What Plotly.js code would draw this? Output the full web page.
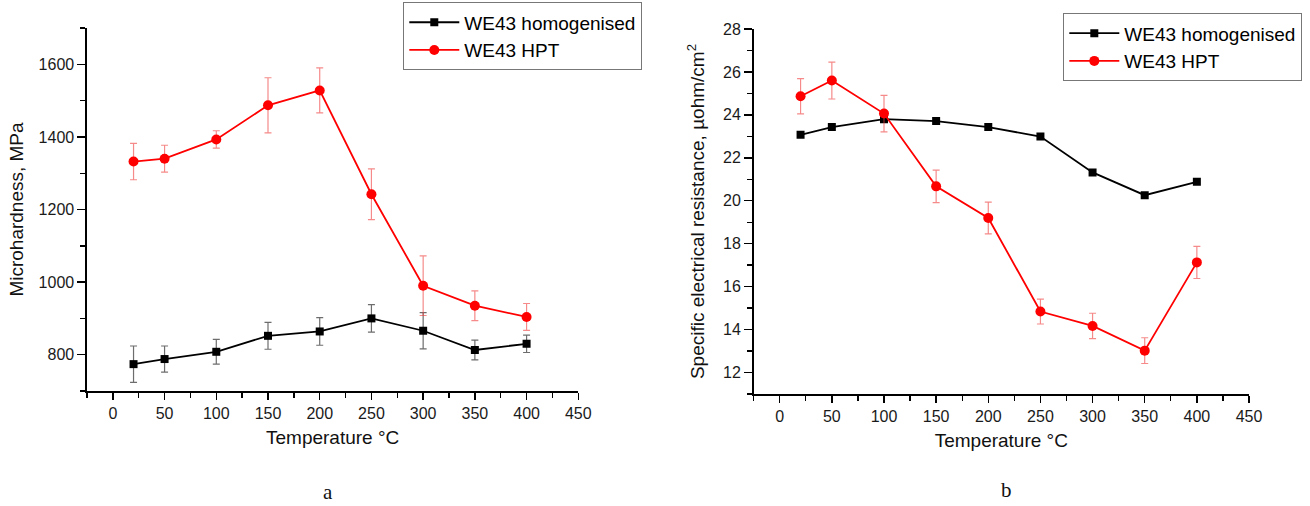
<!DOCTYPE html>
<html>
<head>
<meta charset="utf-8">
<script src="https://cdn.plot.ly/plotly-3.0.1.min.js"></script>
<style>html,body{margin:0;padding:0;background:#fff;}#chart{width:1310px;height:506px;}</style>
</head>
<body>
<div id="chart"></div>
<script>
// Data
const temperatures = [20, 50, 100, 150, 200, 250, 300, 350, 400];
const hardnessHomogenised = [774, 788, 808, 852, 864, 900, 866, 813, 830];
const hardnessHomogenisedErr = [50, 36, 34, 37, 38, 38, 50, 27, 24];
const hardnessHPT = [1332, 1340, 1393, 1487, 1528, 1242, 990, 935, 904];
const hardnessHPTErr = [50, 37, 24, 76, 62, 70, 82, 41, 37];
const resistanceHomogenised = [23.07, 23.43, 23.80, 23.71, 23.43, 22.99, 21.32, 20.26, 20.88];
const resistanceHPT = [24.87, 25.60, 24.06, 20.67, 19.20, 14.84, 14.17, 13.02, 17.13];
const resistanceHPTErr = [0.82, 0.86, 0.85, 0.76, 0.74, 0.58, 0.59, 0.60, 0.75];
const seriesNames = ['WE43 homogenised', 'WE43 HPT'];
const xTitle = 'Temperature °C';
const yTitleLeft = 'Microhardness, MPa';
const yTitleRight = 'Specific electrical resistance, µohm/cm<sup>2</sup>';
const panelLabels = ['a', 'b'];

const SANS = 'Liberation Sans, Arial, sans-serif';
const blackStyle = {
  mode: 'lines+markers',
  line: {color: '#000000', width: 1.8},
  marker: {symbol: 'square', size: 8, color: '#000000'}
};
const redStyle = {
  mode: 'lines+markers',
  line: {color: '#ff0000', width: 1.8},
  marker: {symbol: 'circle', size: 10, color: '#ff0000'}
};
const blackErr = (arr) => ({type: 'data', array: arr, visible: true, color: 'rgba(60,60,60,0.75)', thickness: 1.2, width: 3.5});
const redErr = (arr) => ({type: 'data', array: arr, visible: true, color: 'rgba(240,60,60,0.6)', thickness: 1.2, width: 3.5});

const traces = [
  Object.assign({x: temperatures, y: hardnessHomogenised, name: seriesNames[0], xaxis: 'x', yaxis: 'y', legend: 'legend', error_y: blackErr(hardnessHomogenisedErr)}, blackStyle),
  Object.assign({x: temperatures, y: hardnessHPT, name: seriesNames[1], xaxis: 'x', yaxis: 'y', legend: 'legend', error_y: redErr(hardnessHPTErr)}, redStyle),
  Object.assign({x: temperatures, y: resistanceHomogenised, name: seriesNames[0], xaxis: 'x2', yaxis: 'y2', legend: 'legend2'}, blackStyle),
  Object.assign({x: temperatures, y: resistanceHPT, name: seriesNames[1], xaxis: 'x2', yaxis: 'y2', legend: 'legend2', error_y: redErr(resistanceHPTErr)}, redStyle)
];

const tickFont = {family: SANS, size: 16, color: '#1a1a1a'};
const titleFont = {family: SANS, size: 19, color: '#111'};

function xAxis(domain, anchor) {
  return {
    domain: domain, anchor: anchor, range: [-25, 450], dtick: 50, tick0: 0,
    showgrid: false, zeroline: false, showline: true, linecolor: '#000', linewidth: 1.6,
    ticks: 'outside', ticklen: 7, tickwidth: 1.4, tickcolor: '#000',
    minor: {dtick: 25, tick0: 0, ticks: 'outside', ticklen: 5, tickwidth: 1.4, tickcolor: '#000', showgrid: false},
    tickfont: tickFont,
    title: {text: xTitle, font: titleFont, standoff: 10}
  };
}
function yAxis(domain, anchor, range, dtick, minor, title, standoff) {
  return {
    domain: domain, anchor: anchor, range: range, dtick: dtick, tick0: 0,
    showgrid: false, zeroline: false, showline: true, linecolor: '#000', linewidth: 1.6,
    ticks: 'outside', ticklen: 8, tickwidth: 1.4, tickcolor: '#000',
    minor: {dtick: minor, tick0: 0, ticks: 'outside', ticklen: 5, tickwidth: 1.4, tickcolor: '#000', showgrid: false},
    tickfont: tickFont,
    title: {text: title, font: titleFont, standoff: standoff}
  };
}

const legendBase = {
  xanchor: 'left', yanchor: 'top',
  bgcolor: '#ffffff', bordercolor: '#777777', borderwidth: 1,
  font: {family: SANS, size: 19, color: '#000'}, tracegroupgap: 0, itemwidth: 50
};

const layout = {
  width: 1310, height: 506,
  margin: {l: 87, r: 61, t: 28, b: 112, autoexpand: false},
  paper_bgcolor: '#ffffff', plot_bgcolor: '#ffffff',
  showlegend: true,
  xaxis: xAxis([0, 0.4228], 'y'),
  yaxis: yAxis([0.0082, 1.0], 'x', [700, 1700], 200, 100, yTitleLeft, 10),
  xaxis2: xAxis([0.5737, 1.0], 'y2'),
  yaxis2: yAxis([0.0, 0.9973], 'x2', [11, 28], 2, 1, yTitleRight, 13),
  legend: Object.assign({x: 0.2722, y: 1.070}, legendBase),
  legend2: Object.assign({x: 0.8402, y: 1.040}, legendBase),
  annotations: [
    {text: panelLabels[0], xref: 'paper', yref: 'paper', x: 0.2074, y: -0.3050, xanchor: 'center', yanchor: 'bottom', showarrow: false,
     font: {family: 'Liberation Serif, Times New Roman, serif', size: 21, color: '#111'}},
    {text: panelLabels[1], xref: 'paper', yref: 'paper', x: 0.7917, y: -0.3000, xanchor: 'center', yanchor: 'bottom', showarrow: false,
     font: {family: 'Liberation Serif, Times New Roman, serif', size: 21, color: '#111'}}
  ]
};

Plotly.newPlot('chart', traces, layout, {staticPlot: true, displayModeBar: false});
</script>
</body>
</html>
